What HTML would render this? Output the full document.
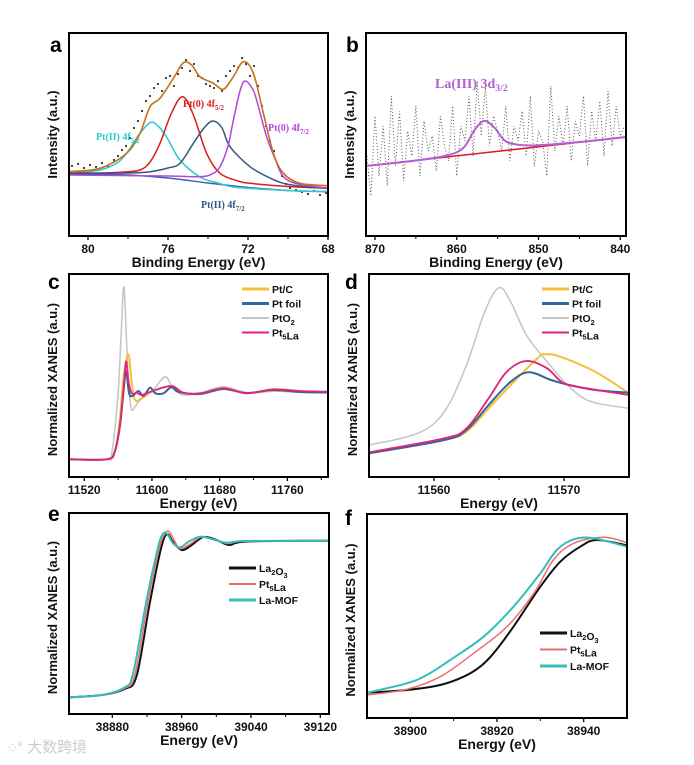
<!DOCTYPE html>
<html><head><meta charset="utf-8">
<style>
html,body{margin:0;padding:0;background:#fff;}
svg{display:block;font-family:"Liberation Sans",Arial,sans-serif;}
.tick{font-size:12px;font-weight:bold;fill:#111;text-anchor:middle;}
.atitle{font-size:14px;font-weight:bold;fill:#111;text-anchor:middle;}
.ytitle{font-size:13px;font-weight:bold;fill:#111;text-anchor:middle;}
.plabel{font-size:21px;font-weight:bold;fill:#000;}
.leg{font-size:10.5px;font-weight:bold;fill:#111;}
</style></head>
<body>
<svg id="fig" width="694" height="765" viewBox="0 0 694 765" xmlns="http://www.w3.org/2000/svg"></svg>
<script>
// ---------- Panel a data (energy eV, intensity a.u.) ----------
const aEnvelope=[[80.98,64.3],[79.4,67.7],[78.07,82.7],[77.4,102.7],[76.9,129.3],[76.4,137.7],[75.73,157.7],[75.23,173.3],[74.82,171],[74.4,159.3],[73.73,152.7],[73.23,146.7],[72.73,159.3],[72.23,174.3],[71.73,162.7],[71.23,122.7],[70.73,82.7],[70.23,62.7],[69.4,52.7],[67.98,50.3]];
const aBackground=[[80.98,62],[78,61],[76,58],[74,53],[72,48.5],[70,45.5],[67.98,44.3]];
const aPtII52=[[80.98,62],[79.4,66],[78.57,72.7],[78.07,82.7],[77.5,100],[76.9,113.3],[76.5,110],[76.07,99],[75.4,76],[74.4,59],[73.5,53],[72.73,49],[71,46.5],[69.5,45],[67.98,44.5]];
const aPt052=[[80.98,63],[79.4,63],[78.2,64],[77.4,66],[76.9,74],[76.4,92.7],[75.83,122.7],[75.27,139.3],[74.73,121],[74.07,82.7],[73.4,62.7],[72.5,55],[71.9,52.7],[70,49.5],[67.98,47.7]];
const aPtII72=[[80.98,62.5],[78,63],[76.9,64.3],[76,68],[75.4,72.7],[74.73,92.7],[74.2,108],[73.75,115],[73.3,108],[72.9,89.3],[71.9,69.3],[71,59],[70.23,52.7],[69,49],[67.98,48]];
const aPt072=[[80.98,61],[76,60],[74.4,59.3],[73.8,62],[73.4,69.3],[73.0,90],[72.73,116],[72.4,145],[72.15,155],[71.8,148],[71.57,136],[71.07,99.3],[70.6,75],[70.23,59.3],[69.5,52],[67.98,47.7]];
const aRaw=[[80.8,70],[80.5,72],[80.2,68],[79.9,71],[79.6,69],[79.3,73],[79.0,70],[78.7,76],[78.5,80],[78.3,86],[78.1,90],[77.9,98],[77.7,108],[77.5,115],[77.3,125],[77.1,135],[76.9,140],[76.7,148],[76.5,152],[76.3,145],[76.1,158],[75.9,160],[75.7,150],[75.5,162],[75.3,168],[75.1,176],[74.9,165],[74.7,172],[74.5,160],[74.3,158],[74.1,152],[73.9,150],[73.7,148],[73.5,155],[73.3,145],[73.1,160],[72.9,165],[72.7,170],[72.5,168],[72.3,178],[72.1,172],[71.9,160],[71.7,170],[71.5,150],[71.3,130],[71.1,110],[70.9,95],[70.7,85],[70.5,70],[70.3,60],[70.1,52],[69.9,48],[69.6,46],[69.3,44],[69.0,42],[68.7,45],[68.4,41],[68.1,43]];
// ---------- Panel b data ----------
const bBackground=[[871.1,70],[839.3,99]];
const bEnvelope=[[871.1,70],[865,75.5],[861.2,80.5],[859.2,88],[857.9,105],[856.7,115],[855.5,109.3],[854.2,96],[853,92],[850.6,90.5],[845,94],[839.3,99]];
const bRawE=[871,870.5,870,869.5,869,868.5,868,867.5,867,866.5,866,865.5,865,864.5,864,863.5,863,862.5,862,861.5,861,860.5,860,859.5,859,858.5,858,857.5,857,856.5,856,855.5,855,854.5,854,853.5,853,852.5,852,851.5,851,850.5,850,849.5,849,848.5,848,847.5,847,846.5,846,845.5,845,844.5,844,843.5,843,842.5,842,841.5,841,840.5,840,839.5];
const bRawV=[80,40,120,60,110,50,140,70,125,55,105,80,130,60,115,85,100,65,120,90,75,130,60,110,95,140,80,155,100,150,90,120,105,85,130,75,110,95,125,80,140,70,105,95,60,150,85,120,90,130,75,115,100,140,70,125,95,135,80,145,90,130,100,110];
// ---------- Panel c data (Pt L3 XANES) ----------
const cPtC=[[11502,17.7],[11546.5,17.7],[11556,25.3],[11562,57],[11566,97],[11572,122.7],[11576,95],[11580,77],[11588,78.7],[11601.6,86],[11623,91],[11637,84.3],[11657,83.7],[11684.5,88],[11712,84],[11743.5,86],[11775,85],[11808,85]];
const cPtFoil=[[11502,17.7],[11546.5,17.7],[11556,25.3],[11562,50],[11566,82],[11569.4,105.3],[11573,83.7],[11577,81],[11584,86],[11590,81],[11597.7,89.3],[11604,83.7],[11613.5,83.7],[11623,89.7],[11632,85],[11657,83],[11684.5,88],[11712,84],[11743.5,87],[11775,85],[11808,84.5]];
const cPtO2=[[11502,17.7],[11546.5,17.7],[11552.5,23.7],[11560,83.7],[11564,150],[11567,189.7],[11571,117],[11575,70.3],[11580,70.3],[11586,77],[11601.6,87],[11615.5,100.3],[11625,88.7],[11637,82],[11657,84],[11684.5,90.3],[11712,84.5],[11743.5,86],[11775,85],[11808,85]];
const cPt5La=[[11502,17.7],[11546.5,17.7],[11556,25.3],[11562,50],[11566,83.7],[11569.4,115.3],[11572,97],[11576,83.7],[11582,84.3],[11588,82],[11601.6,86.3],[11623,91],[11637,84.3],[11657,83.7],[11684.5,88.7],[11712,83.7],[11743.5,87.7],[11775,86],[11808,85.3]];
// ---------- Panel d data ----------
const dPtO2=[[11555,32],[11558.75,43.7],[11560.8,65.3],[11562.5,112],[11563.9,165.3],[11565,189.3],[11565.9,175.3],[11567.1,142],[11568.7,115.3],[11570.4,90.3],[11572.1,75.3],[11575,68.7]];
const dPt5La=[[11555,24.7],[11560.8,38.7],[11562.5,48.7],[11564.2,78.7],[11565.6,105.3],[11567.1,116],[11568.7,108.7],[11570,93.7],[11572.1,88],[11575,82]];
const dPtFoil=[[11555,23.7],[11560.8,37],[11562.5,47],[11564.2,72],[11565.9,95.3],[11567.3,104.7],[11569,97],[11570.4,92],[11572.4,87],[11575,84.3]];
const dPtC=[[11555,23.7],[11560.8,37],[11562.5,45.3],[11564.2,68.7],[11565.9,92],[11568,119.3],[11568.6,122.7],[11569.7,120.3],[11572.4,105.3],[11575,83.7]];
// ---------- Panel e data (La K XANES) ----------
const eLaMOF=[[38830,16.7],[38868,19],[38894,26.5],[38904,40.7],[38919.5,114],[38932,164],[38937.5,179],[38942.7,180.7],[38950,170.7],[38958,166.7],[38968,172.3],[38981,177.3],[38996,174.7],[39012,171.3],[39035,173],[39130,173.3]];
const eLa2O3=[[38830,16.7],[38868,19],[38894,25],[38908,38],[38923,110],[38936,165],[38943,180],[38950,172],[38960,164],[38970,168],[38985,177],[39000,174],[39015,169],[39035,172.5],[39130,173.3]];
const ePt5La=[[38830,16.7],[38868,19],[38894,25.7],[38906,39],[38921,112],[38934,165],[38941,180.5],[38946,182],[38955,168],[38960,165.5],[38970,170],[38983,177],[38998,174],[39014,170.5],[39035,173],[39130,173.3]];
// ---------- Panel f data ----------
const fLaMOF=[[38890,25.3],[38899.2,34.7],[38903.8,43],[38909.2,58],[38916.9,81.3],[38923.8,111.3],[38930,144.7],[38933.8,168],[38937.7,178.7],[38942.3,179.7],[38950,171.3]];
const fLa2O3=[[38890,25.3],[38899.2,28],[38906.9,33],[38912.3,41.3],[38916.1,51.3],[38919.2,64.7],[38923.8,91.3],[38930,131.3],[38934.6,156.3],[38939.2,171.3],[38943,178],[38950,172.7]];
const fPt5La=[[38890,23],[38899.2,28.7],[38906.9,41.3],[38914.6,64.7],[38922.3,91.3],[38928.5,124.7],[38933,158],[38937.7,174.7],[38944.6,180.7],[38950,175.3]];
// tick labels
const aTicks=[80,76,72,68];
const bTicks=[870,860,850,840];
const cTicks=[11520,11600,11680,11760];
const dTicks=[11560,11570];
const eTicks=[38880,38960,39040,39120];
const fTicks=[38900,38920,38940];

const NS="http://www.w3.org/2000/svg";
const fig=document.getElementById('fig');
function mk(tag,attrs,parent){const e=document.createElementNS(NS,tag);for(const k in attrs)e.setAttribute(k,attrs[k]);(parent||fig).appendChild(e);return e;}

function panel(cfg){
  const g=mk('g',{});
  
  
  const {x0,x1,y0,y1,e0,e1,vmax}=cfg;
  const sx=e=>x0+(e-e0)/(e1-e0)*(x1-x0);
  const sy=v=>y1-v/vmax*(y1-y0);
  cfg.sx=sx;cfg.sy=sy;cfg.g=g;
  cfg.ticks.forEach(t=>{
    const tl=mk('line',{x1:sx(t),x2:sx(t),y1:y1,y2:y1+4,stroke:'#000','stroke-width':1.3},g);
    
    
    const tx=mk('text',{x:sx(t),y:y1+17,class:'tick'},g);
    tx.textContent=t;
    
    
  });
  cfg.minor.forEach(t=>{
    const ml=mk('line',{x1:sx(t),x2:sx(t),y1:y1,y2:y1+3,stroke:'#000','stroke-width':1},g);
    
    
  });
  const xt=mk('text',{x:(x0+x1)/2,y:y1+31,class:'atitle'},g);
  xt.textContent=cfg.xtitle;
  
  
  const yt=mk('text',{x:0,y:0,class:'ytitle',transform:`translate(${x0-12},${(y0+y1)/2+cfg.yoff}) rotate(-90)`},g);
  yt.textContent=cfg.ytitle;
  
  
  const pl=mk('text',{x:cfg.lx,y:cfg.ly,class:'plabel'},g);
  pl.textContent=cfg.letter;
  
  
  const clip=mk('clipPath',{id:'clip'+cfg.letter},g);
  mk('rect',{x:x0,y:y0,width:x1-x0,height:y1-y0},clip);
  cfg.plot=mk('g',{'clip-path':`url(#clip${cfg.letter})`},g);
  return cfg;
}
function frame(cfg){
  const r=mk('rect',{x:cfg.x0,y:cfg.y0,width:cfg.x1-cfg.x0,height:cfg.y1-cfg.y0,fill:'none',stroke:'#000','stroke-width':2},cfg.g);
  
  
}
function line(cfg,data,color,w,name,dash){
  const d=smooth(data.map(p=>[cfg.sx(p[0]),cfg.sy(p[1])]));
  const p=mk('path',{d:d,fill:'none',stroke:color,'stroke-width':w,'stroke-linejoin':'round'},cfg.plot);
  if(dash)p.setAttribute('stroke-dasharray',dash);
  
  
}
function smooth(pts){
  pts=pts.slice().sort((a,b)=>a[0]-b[0]);
  let d=`M${pts[0][0]},${pts[0][1]}`;
  for(let i=0;i<pts.length-1;i++){
    const p0=pts[Math.max(0,i-1)],p1=pts[i],p2=pts[i+1],p3=pts[Math.min(pts.length-1,i+2)];
    const c1=[p1[0]+(p2[0]-p0[0])/6,p1[1]+(p2[1]-p0[1])/6];
    const c2=[p2[0]-(p3[0]-p1[0])/6,p2[1]-(p3[1]-p1[1])/6];
    d+=`C${c1[0]},${c1[1]} ${c2[0]},${c2[1]} ${p2[0]},${p2[1]}`;
  }
  return d;
}
function legend(cfg,items,x,y,dy){
  items.forEach((it,i)=>{
    const ll=mk('line',{x1:x,x2:x+27,y1:y+i*dy,y2:y+i*dy,stroke:it[1],'stroke-width':it[2]},cfg.g);
    
    
    const t=mk('text',{x:x+30,y:y+i*dy+4,class:'leg'},cfg.g);
    t.innerHTML=it[0];
    
    
  });
}
function note(cfg,x,y,html,color,size,name){
  const t=mk('text',{x:x,y:y,fill:color,'font-family':'"Liberation Serif",serif','font-weight':'bold','font-size':size},cfg.g);
  t.innerHTML=html;
  
  
}
const sub=(s)=>`<tspan font-size="70%" dy="3">${s}</tspan><tspan dy="-3"></tspan>`;

// Panel a
const A=panel({name:'panel-a-pt4f-xps',letter:'a',lx:50,ly:52,x0:69,x1:328,y0:33,y1:236,e0:80.95,e1:68,vmax:203,yoff:0,ticks:aTicks,minor:[78,74,70],xtitle:'Binding Energy (eV)',ytitle:'Intensity (a.u.)'});
aRaw.forEach(p=>{const c=mk('circle',{cx:A.sx(p[0]),cy:A.sy(p[1]),r:1.1,fill:'#333'},A.plot);
  
  });
line(A,aBackground,'#3b63b8',1.5,'background-line');
line(A,aPtII52,'#2ec9c9',1.5,'pt-ii-4f52-peak');
line(A,aPt052,'#d81e1e',1.5,'pt-0-4f52-peak');
line(A,aPtII72,'#33577f',1.5,'pt-ii-4f72-peak');
line(A,aPt072,'#b347d9',1.5,'pt-0-4f72-peak');
line(A,aEnvelope,'#c7701c',1.6,'fit-envelope');
frame(A);
note(A,96,140,'Pt(II) 4f'+sub('5/2'),'#2ec9c9',10,'pt-ii-4f52-label');
note(A,183,107,'Pt(0) 4f'+sub('5/2'),'#d81e1e',10,'pt-0-4f52-label');
note(A,268,131,'Pt(0) 4f'+sub('7/2'),'#b347d9',10,'pt-0-4f72-label');
note(A,201,208,'Pt(II) 4f'+sub('7/2'),'#33577f',10,'pt-ii-4f72-label');

// Panel b
const B=panel({name:'panel-b-la3d-xps',letter:'b',lx:346,ly:52,x0:366,x1:626,y0:33,y1:236,e0:871.1,e1:839.3,vmax:203,yoff:0,ticks:bTicks,minor:[865,855,845],xtitle:'Binding Energy (eV)',ytitle:'Intensity (a.u.)'});
{const pts=bRawE.map((e,i)=>`${B.sx(e)},${B.sy(bRawV[i])}`).join(' ');
 const pr=mk('polyline',{points:pts,fill:'none',stroke:'#555','stroke-width':1,'stroke-dasharray':'1 2.2'},B.plot);
 
 }
line(B,bBackground,'#e0192b',1.6,'background-line');
line(B,bEnvelope,'#b35fd1',2,'la-3d32-fit');
frame(B);
note(B,435,88,'La(III) 3d'+sub('3/2'),'#b35fd1',14,'la-3d32-label');

// Panel c
const C=panel({name:'panel-c-pt-xanes',letter:'c',lx:48,ly:289,x0:69,x1:328,y0:274,y1:477,e0:11502,e1:11808,vmax:203,yoff:4,ticks:cTicks,minor:[11560,11640,11720,11800],xtitle:'Energy (eV)',ytitle:'Normalized XANES (a.u.)'});
line(C,cPtO2,'#c4c4c4',1.5,'pto2-line');
line(C,cPtC,'#f5c037',2,'ptc-line');
line(C,cPtFoil,'#33679a',2,'pt-foil-line');
line(C,cPt5La,'#e3227d',1.8,'pt5la-line');
frame(C);
legend(C,[['Pt/C','#f5c037',3],['Pt foil','#33679a',3],['PtO'+sub('2'),'#c4c4c4',2],['Pt'+sub('5')+'La','#e3227d',2]],242,289,14.5);

// Panel d
const D=panel({name:'panel-d-pt-xanes-zoom',letter:'d',lx:345,ly:289,x0:369,x1:629,y0:274,y1:477,e0:11555,e1:11575,vmax:203,yoff:4,ticks:dTicks,minor:[11565],xtitle:'Energy (eV)',ytitle:'Normalized XANES (a.u.)'});
line(D,dPtO2,'#c4c4c4',1.5,'pto2-line');
line(D,dPtC,'#f5c037',2,'ptc-line');
line(D,dPtFoil,'#33679a',2,'pt-foil-line');
line(D,dPt5La,'#e3227d',1.8,'pt5la-line');
frame(D);
legend(D,[['Pt/C','#f5c037',3],['Pt foil','#33679a',3],['PtO'+sub('2'),'#c4c4c4',2],['Pt'+sub('5')+'La','#e3227d',2]],542,289,14.5);

// Panel e
const E=panel({name:'panel-e-la-xanes',letter:'e',lx:48,ly:521,x0:69,x1:329,y0:513,y1:714,e0:38830,e1:39130,vmax:201,yoff:4,ticks:eTicks,minor:[38920,39000,39080],xtitle:'Energy (eV)',ytitle:'Normalized XANES (a.u.)'});
line(E,eLa2O3,'#111',2,'la2o3-line');
line(E,ePt5La,'#ee6e6e',1.5,'pt5la-line');
line(E,eLaMOF,'#35bdb8',2,'la-mof-line');
frame(E);
legend(E,[['La'+sub('2')+'O'+sub('3'),'#111',3],['Pt'+sub('5')+'La','#ee6e6e',2],['La-MOF','#35bdb8',3]],229,568,16);

// Panel f
const F=panel({name:'panel-f-la-xanes-zoom',letter:'f',lx:345,ly:525,x0:367,x1:627,y0:514,y1:718,e0:38890,e1:38950,vmax:204,yoff:4,ticks:fTicks,minor:[38910,38930],xtitle:'Energy (eV)',ytitle:'Normalized XANES (a.u.)'});
line(F,fLa2O3,'#111',2,'la2o3-line');
line(F,fPt5La,'#ee6e6e',1.5,'pt5la-line');
line(F,fLaMOF,'#35bdb8',2,'la-mof-line');
frame(F);
legend(F,[['La'+sub('2')+'O'+sub('3'),'#111',3],['Pt'+sub('5')+'La','#ee6e6e',2],['La-MOF','#35bdb8',3]],540,633,16.5);

// watermark
const wm=mk('text',{x:8,y:752,fill:'#ccc','font-size':15,'font-family':'"Liberation Sans","Noto Sans CJK SC",sans-serif'});
wm.textContent='◌° 大数跨境';


</script>
</body></html>
